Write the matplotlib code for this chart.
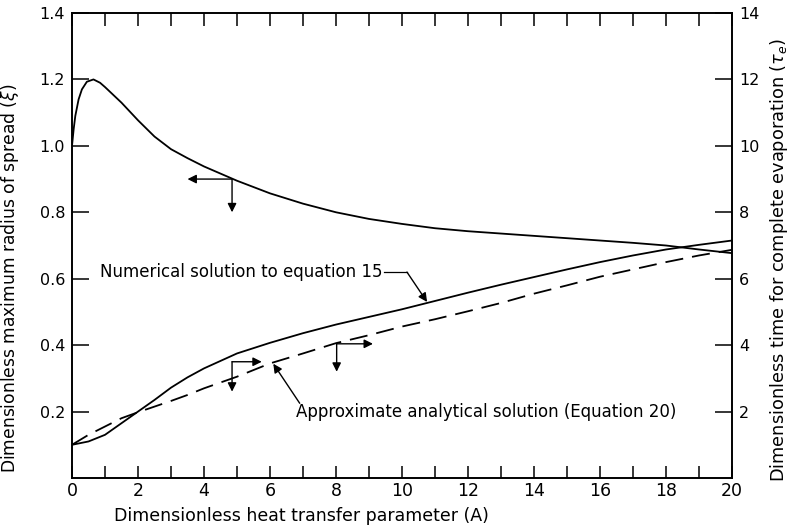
import matplotlib
matplotlib.use("Agg")
import matplotlib.pyplot as plt

# ---- data ----
A_xi = [0, 0.05, 0.1, 0.2, 0.3, 0.45, 0.65, 0.85, 1.0, 1.5, 2.0, 2.5, 3.0, 3.5, 4.0, 5.0, 6.0,
        7.0, 8.0, 9.0, 10, 11, 12, 13, 14, 15, 16, 17, 18, 19, 20]
xi = [1.0, 1.05, 1.09, 1.14, 1.17, 1.193, 1.2, 1.19, 1.177, 1.13, 1.077, 1.028, 0.99, 0.963,
      0.938, 0.895, 0.857, 0.826, 0.80, 0.78, 0.765, 0.752, 0.743, 0.736, 0.729, 0.722, 0.715,
      0.708, 0.70, 0.688, 0.677]

A_tau = [0, 0.5, 1.0, 1.5, 2.0, 2.5, 3.0, 3.5, 4.0, 5.0, 6.0, 7.0, 8.0, 9.0, 10, 11, 12, 13, 14,
         15, 16, 17, 18, 19, 20]
tau_numerical = [1.0, 1.1, 1.3, 1.65, 2.0, 2.35, 2.72, 3.03, 3.3, 3.75, 4.07, 4.36, 4.62, 4.85,
                 5.08, 5.33, 5.58, 5.82, 6.05, 6.28, 6.5, 6.7, 6.88, 7.02, 7.15]
tau_approx = [1.0, 1.3, 1.55, 1.8, 1.98, 2.15, 2.32, 2.5, 2.7, 3.05, 3.45, 3.75, 4.06, 4.3, 4.56,
              4.78, 5.02, 5.27, 5.55, 5.8, 6.06, 6.28, 6.5, 6.7, 6.87]

x_ticks = [0, 2, 4, 6, 8, 10, 12, 14, 16, 18, 20]
left_ticks = [0.2, 0.4, 0.6, 0.8, 1.0, 1.2, 1.4]
right_ticks = [2, 4, 6, 8, 10, 12, 14]

FS = 12
plt.rcParams['font.family'] = ['DejaVu Sans']

fig = plt.figure(figsize=(7.89, 5.26), dpi=100)
ax = fig.add_axes([72 / 789, 48 / 526, 660 / 789, 465 / 526])
ax2 = ax.twinx()

lw = 1.3
ax.plot(A_xi, xi, color='black', lw=lw)
ax2.plot(A_tau, tau_numerical, color='black', lw=lw)
ax2.plot(A_tau, tau_approx, color='black', lw=lw, ls=(0, (10, 5)))

ax.set_xlim(0, 20)
ax.set_ylim(0, 1.4)
ax2.set_ylim(0, 14)

ax.set_xticks(x_ticks)
ax.set_xticks(range(0, 21), minor=True)
ax.set_yticks(left_ticks)
ax.set_yticklabels([f"{v:.1f}" for v in left_ticks])
ax2.set_yticks(right_ticks)
ax2.set_yticklabels([str(v) for v in right_ticks])

ax.tick_params(axis='x', which='both', direction='in', length=9, width=1.1,
               top=True, labelsize=12.5, pad=3)
ax.tick_params(axis='y', which='both', direction='in', length=12, width=1.1,
               labelsize=11.5, pad=5)
ax2.tick_params(axis='y', direction='in', length=12, width=1.1, labelsize=11.5, pad=5)
for a in (ax, ax2):
    for s in a.spines.values():
        s.set_linewidth(1.2)

ax.set_xlabel("Dimensionless heat transfer parameter (A)", fontsize=12.5)
ax.xaxis.set_label_coords(0.347, -0.063)
ax.set_ylabel(r"Dimensionless maximum radius of spread ($\xi$)", fontsize=12.3)
ax.yaxis.set_label_coords(-0.078, 0.43)
ax2.set_ylabel(r"Dimensionless time for complete evaporation ($\tau_e$)", fontsize=12.8,
               rotation=90)
ax2.yaxis.set_label_coords(1.055, 0.47)

arrow = dict(arrowstyle='-|>', color='black', lw=1.0, mutation_scale=13, shrinkA=0, shrinkB=0)

# axis indicators for xi curve (left axis)
ax.annotate("", xy=(3.5, 0.90), xytext=(4.85, 0.90), arrowprops=arrow)
ax.annotate("", xy=(4.85, 0.80), xytext=(4.85, 0.90), arrowprops=arrow)

# axis indicators for tau curves (right axis)
for cx, cy, rx, dy in [(4.85, 3.5, 5.75, 2.6), (8.02, 4.04, 9.12, 3.2)]:
    ax2.annotate("", xy=(rx, cy), xytext=(cx, cy), arrowprops=arrow)
    ax2.annotate("", xy=(cx, dy), xytext=(cx, cy), arrowprops=arrow)

# labels with leaders
ax2.text(0.85, 6.2, "Numerical solution to equation 15", fontsize=FS, va='center', ha='left')
ax2.plot([9.45, 10.15], [6.2, 6.2], color='black', lw=0.9)
ax2.annotate("", xy=(10.76, 5.3), xytext=(10.15, 6.2), arrowprops=arrow)

ax2.text(6.8, 2.0, "Approximate analytical solution (Equation 20)", fontsize=FS,
         va='center', ha='left')
ax2.annotate("", xy=(6.1, 3.44), xytext=(6.9, 2.25), arrowprops=arrow)

fig.savefig("out.png", dpi=100)
